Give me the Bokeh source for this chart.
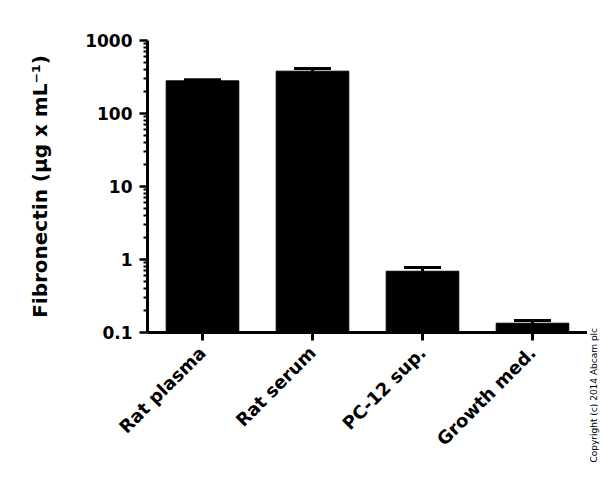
from math import pi
from bokeh.plotting import figure
from bokeh.layouts import row
from bokeh.models import (ColumnDataSource, FactorRange, Range1d, Whisker, TeeHead,
                          FixedTicker, Label)
from bokeh.embed import file_html
from bokeh.resources import INLINE

# ---- data ----
categories = ["Rat plasma", "Rat serum", "PC-12 sup.", "Growth med."]
means = [280, 380, 0.69, 0.134]
upper = [290, 412, 0.78, 0.146]
y_ticks = [0.1, 1, 10, 100, 1000]
y_tick_labels = ["0.1", "1", "10", "100", "1000"]
minor_mults = [2, 3, 4, 5, 6, 7, 8, 9]
copyright_text = "Copyright (c) 2014 Abcam plc"

src = ColumnDataSource(dict(cat=categories, val=means, up=upper))

FONT = "DejaVu Sans"

p = figure(width=587, height=479, x_range=FactorRange(*categories),
           y_range=Range1d(0.1, 1000), y_axis_type="log",
           output_backend="svg", toolbar_location=None,
           min_border_left=147, min_border_right=0, min_border_top=40,
           min_border_bottom=147)
p.frame_align = False
p.outline_line_color = None
p.xgrid.grid_line_color = None
p.ygrid.grid_line_color = None
p.background_fill_color = "white"
p.border_fill_color = "white"

p.vbar(x="cat", top="val", bottom=0.1, width=0.66, source=src,
       fill_color="black", line_color="black", line_width=1)

w = Whisker(base="cat", upper="up", lower="val", source=src,
            upper_head=TeeHead(size=37, line_width=3, line_color="black"),
            lower_head=None, line_width=3, line_color="black")
p.add_layout(w)

# y axis
minor = [m * t for t in y_ticks[:-1] for m in minor_mults]
p.yaxis.ticker = FixedTicker(ticks=y_ticks, minor_ticks=minor)
p.yaxis.major_label_overrides = {t: l for t, l in zip(y_ticks, y_tick_labels)}
p.yaxis.axis_line_width = 3
p.yaxis.major_tick_line_width = 2.5
p.yaxis.major_tick_out = 8
p.yaxis.major_tick_in = 0
p.yaxis.minor_tick_line_width = 2
p.yaxis.minor_tick_out = 4
p.yaxis.minor_tick_in = 0
p.yaxis.major_label_text_font = FONT
p.yaxis.major_label_text_font_style = "bold"
p.yaxis.major_label_text_font_size = "17px"
p.yaxis.major_label_text_color = "black"
p.yaxis.major_label_standoff = 7
p.yaxis.axis_label = "Fibronectin (µg x mL⁻¹)"
p.yaxis.axis_label_text_font = FONT
p.yaxis.axis_label_text_font_style = "bold"
p.yaxis.axis_label_text_font_size = "20px"
p.yaxis.axis_label_text_color = "black"
p.yaxis.axis_label_standoff = 30

# x axis
p.xaxis.axis_line_width = 3
p.xaxis.major_tick_line_width = 3
p.xaxis.major_tick_out = 8
p.xaxis.major_tick_in = 0
p.xaxis.minor_tick_line_color = None
p.xaxis.major_label_orientation = pi / 4
p.xaxis.major_label_text_font = FONT
p.xaxis.major_label_text_font_style = "bold"
p.xaxis.major_label_text_font_size = "18px"
p.xaxis.major_label_text_color = "black"
p.xaxis.major_label_standoff = 9

# thin side strip for the copyright notice
side = figure(width=13, height=479, x_range=Range1d(0, 1), y_range=Range1d(0, 1),
              output_backend="svg", toolbar_location=None,
              x_axis_location=None, y_axis_location=None,
              min_border_left=0, min_border_right=0, min_border_top=0,
              min_border_bottom=0)
side.frame_align = False
side.outline_line_color = None
side.xgrid.grid_line_color = None
side.ygrid.grid_line_color = None
side.background_fill_color = "white"
side.border_fill_color = "white"
cr = Label(x=6, y=17, x_units="screen", y_units="screen", angle=pi / 2,
           text=copyright_text, text_font=FONT,
           text_font_size="9px", text_color="black",
           text_align="left", text_baseline="middle")
side.add_layout(cr)

layout = row(p, side, spacing=0)
open("out.html", "w").write(file_html(layout, INLINE))
